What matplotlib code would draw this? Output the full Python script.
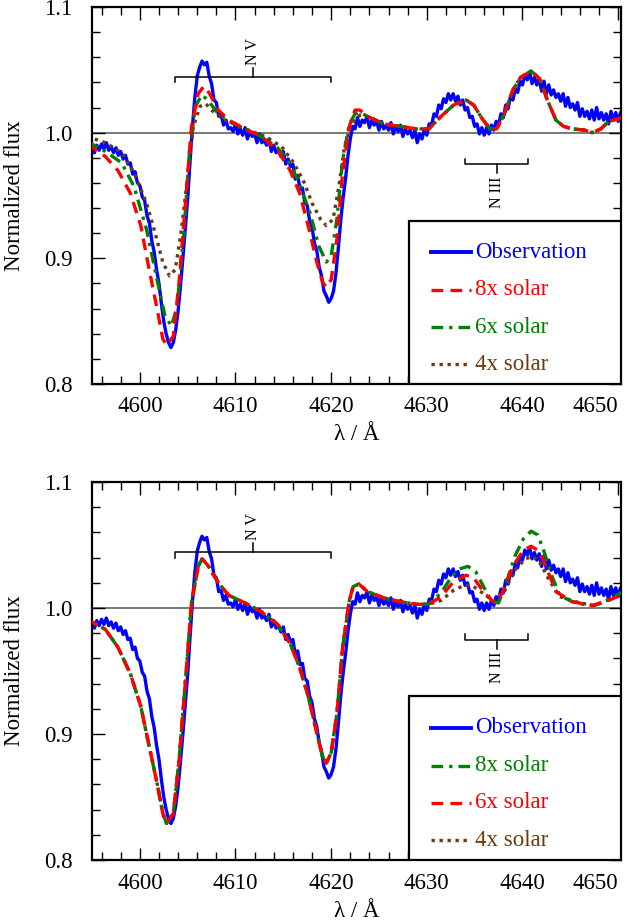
import numpy as np
import matplotlib
matplotlib.use("Agg")
import matplotlib.pyplot as plt
from matplotlib.patches import Rectangle
from matplotlib.ticker import MultipleLocator

plt.rcParams['font.family'] = ['Liberation Serif', 'DejaVu Serif']
plt.rcParams['mathtext.fontset'] = 'stix'

# ---------------- data ----------------
# observed spectrum, sampled every 0.25 A from 4594.5 A (one row = 2 A)
obs_flux = [
    0.987, 0.985, 0.988, 0.984, 0.990, 0.986, 0.991, 0.987,
    0.992, 0.986, 0.989, 0.984, 0.988, 0.982, 0.985, 0.979,
    0.982, 0.975, 0.976, 0.967, 0.969, 0.960, 0.958, 0.949,
    0.946, 0.934, 0.928, 0.914, 0.905, 0.891, 0.880, 0.864,
    0.850, 0.840, 0.833, 0.829, 0.833, 0.843, 0.858, 0.878,
    0.900, 0.924, 0.947, 0.977, 1.005, 1.028, 1.045, 1.052,
    1.057, 1.054, 1.056, 1.045, 1.039, 1.026, 1.024, 1.013,
    1.014, 1.006, 1.010, 1.003, 1.004, 1.001, 1.007, 0.999,
    1.003, 0.998, 1.004, 0.995, 1.001, 0.997, 0.999, 0.992,
    0.999, 0.992, 0.994, 0.990, 0.995, 0.985, 0.990, 0.984,
    0.986, 0.981, 0.985, 0.975, 0.979, 0.973, 0.975, 0.963,
    0.966, 0.955, 0.956, 0.944, 0.942, 0.930, 0.925, 0.912,
    0.906, 0.893, 0.886, 0.874, 0.870, 0.865, 0.868, 0.874,
    0.888, 0.908, 0.930, 0.948, 0.963, 0.981, 0.995, 1.005,
    1.003, 1.012, 1.005, 1.010, 1.008, 1.013, 1.004, 1.010,
    1.006, 1.009, 1.002, 1.009, 1.003, 1.006, 1.002, 1.008,
    0.999, 1.005, 1.001, 1.006, 0.997, 1.003, 0.999, 1.002,
    0.996, 1.002, 0.992, 0.999, 0.995, 1.003, 0.998, 1.007,
    1.006, 1.015, 1.013, 1.022, 1.019, 1.027, 1.024, 1.031,
    1.026, 1.031, 1.025, 1.029, 1.022, 1.026, 1.018, 1.020,
    1.012, 1.013, 1.005, 1.007, 0.999, 1.004, 0.998, 1.004,
    0.999, 1.006, 1.002, 1.009, 1.006, 1.015, 1.012, 1.022,
    1.019, 1.029, 1.026, 1.035, 1.032, 1.041, 1.038, 1.046,
    1.042, 1.048, 1.039, 1.044, 1.038, 1.043, 1.033, 1.041,
    1.031, 1.038, 1.030, 1.034, 1.028, 1.031, 1.025, 1.031,
    1.021, 1.028, 1.020, 1.023, 1.018, 1.024, 1.013, 1.019,
    1.013, 1.017, 1.011, 1.018, 1.010, 1.020, 1.011, 1.016,
    1.010, 1.015, 1.007, 1.017, 1.010, 1.016, 1.009, 1.016,
    1.011]
obs_wave = 4594.5 + 0.25 * np.arange(len(obs_flux))

# top panel models: N V region (separate) + N III region (shared)
top_tail_wave = [4623.8, 4625.5, 4627.2, 4628.9, 4630.2, 4631.5, 4632.8, 4634.1,
                 4634.9, 4635.8, 4636.6, 4637.3, 4638.1, 4639.0, 4639.8, 4640.9,
                 4641.8, 4642.6, 4643.5, 4644.3, 4645.2, 4646.5, 4647.3, 4648.2,
                 4649.0, 4650.5]
top_tail_flux = [1.013, 1.007, 1.005, 1.003, 1.003, 1.013, 1.022, 1.026,
                 1.022, 1.011, 1.003, 1.003, 1.015, 1.034, 1.044, 1.049,
                 1.043, 1.026, 1.010, 1.005, 1.003, 1.002, 1.000, 1.003,
                 1.009, 1.012]

top8_wave = [4594.5, 4596.4, 4597.7, 4599.0, 4600.1, 4600.9, 4601.8, 4602.4, 4602.8,
             4603.5, 4604.1, 4604.8, 4605.4, 4606.1, 4606.7, 4607.3, 4608.2, 4609.3,
             4611.0, 4612.7, 4614.4, 4615.7, 4616.7, 4617.6, 4618.5, 4619.1, 4619.5,
             4620.0, 4620.6, 4621.2, 4621.9, 4622.5, 4623.0]
top8_flux = [0.991, 0.981, 0.970, 0.952, 0.926, 0.894, 0.860, 0.836, 0.831,
             0.838, 0.881, 0.947, 1.005, 1.031, 1.037, 1.031, 1.018, 1.010,
             1.003, 0.997, 0.986, 0.970, 0.952, 0.926, 0.897, 0.881, 0.877,
             0.883, 0.915, 0.968, 1.005, 1.018, 1.018]

top6_wave = [4594.5, 4596.4, 4598.1, 4599.4, 4600.7, 4601.8, 4602.6, 4603.3, 4603.9,
             4604.6, 4605.2, 4605.8, 4606.5, 4607.1, 4608.2, 4609.3, 4611.0, 4612.7,
             4614.4, 4615.5, 4616.5, 4617.8, 4618.7, 4619.5, 4620.0, 4620.6, 4621.2,
             4621.9, 4622.5, 4623.0]
top6_flux = [0.993, 0.985, 0.976, 0.957, 0.923, 0.883, 0.855, 0.846, 0.862,
             0.920, 0.986, 1.021, 1.030, 1.026, 1.015, 1.009, 1.003, 0.997,
             0.988, 0.977, 0.963, 0.936, 0.910, 0.897, 0.902, 0.931, 0.978,
             1.007, 1.015, 1.016]

top4_wave = [4594.5, 4596.4, 4598.1, 4599.4, 4600.7, 4601.6, 4602.4, 4603.1, 4603.7,
             4604.3, 4605.0, 4605.6, 4606.3, 4606.9, 4607.5, 4608.6, 4611.0, 4613.1,
             4614.8, 4616.1, 4617.2, 4618.0, 4618.9, 4619.5, 4620.2, 4620.8, 4621.4,
             4622.1, 4623.0]
top4_flux = [0.997, 0.992, 0.984, 0.968, 0.944, 0.920, 0.897, 0.886, 0.891,
             0.920, 0.965, 1.005, 1.021, 1.023, 1.018, 1.011, 1.003, 0.997,
             0.989, 0.976, 0.960, 0.944, 0.931, 0.926, 0.931, 0.957, 0.989,
             1.007, 1.014]

# bottom panel models: N V region shared + N III region (separate)
bot_head_wave = [4594.5, 4596.4, 4597.7, 4599.0, 4600.1, 4600.9, 4601.8, 4602.4, 4602.8,
                 4603.5, 4604.1, 4604.8, 4605.4, 4606.1, 4606.5, 4607.1, 4608.2, 4609.3,
                 4611.0, 4612.7, 4614.4, 4615.7, 4616.7, 4617.6, 4618.5, 4619.1, 4619.5,
                 4620.0, 4620.6, 4621.2, 4621.9, 4622.3, 4622.9, 4623.8, 4625.5, 4627.2,
                 4628.9, 4630.2]
bot_head_flux = [0.991, 0.983, 0.969, 0.948, 0.922, 0.893, 0.861, 0.837, 0.829,
                 0.837, 0.879, 0.945, 1.004, 1.033, 1.039, 1.034, 1.020, 1.010,
                 1.004, 0.997, 0.987, 0.972, 0.953, 0.930, 0.901, 0.882, 0.877,
                 0.885, 0.916, 0.969, 1.006, 1.017, 1.019, 1.013, 1.008, 1.005,
                 1.003, 1.003]

bot8_wave = [4631.5, 4632.6, 4633.4, 4634.3, 4635.1, 4636.0, 4636.8, 4637.5, 4638.3,
             4639.2, 4640.1, 4640.9, 4641.6, 4642.2, 4643.1, 4643.9, 4645.2, 4646.9,
             4647.5, 4648.6, 4650.5]
bot8_flux = [1.012, 1.025, 1.031, 1.033, 1.029, 1.016, 1.005, 1.004, 1.020,
             1.041, 1.055, 1.061, 1.058, 1.046, 1.025, 1.010, 1.005, 1.002,
             1.002, 1.005, 1.013]

bot6_wave = [4631.5, 4632.8, 4634.1, 4634.9, 4636.0, 4637.1, 4637.9, 4639.0, 4640.1,
             4640.9, 4641.8, 4642.6, 4643.5, 4645.2, 4647.3, 4649.0, 4650.5]
bot6_flux = [1.009, 1.021, 1.026, 1.024, 1.012, 1.004, 1.012, 1.033, 1.046,
             1.049, 1.045, 1.030, 1.013, 1.005, 1.002, 1.006, 1.011]

bot4_wave = [4631.5, 4632.8, 4633.9, 4634.9, 4636.0, 4637.1, 4638.1, 4639.2, 4640.3,
             4641.1, 4641.9, 4642.8, 4643.9, 4646.0, 4647.5, 4650.5]
bot4_flux = [1.006, 1.014, 1.018, 1.017, 1.011, 1.005, 1.013, 1.030, 1.039,
             1.041, 1.035, 1.022, 1.009, 1.004, 1.002, 1.011]

nv_lines = [4603.7, 4620.0]
niii_lines = [4634.0, 4640.6]

top_labels = ['Observation', '8x solar', '6x solar', '4x solar']
bot_labels = ['Observation', '8x solar', '6x solar', '4x solar']
xticks = [4600, 4610, 4620, 4630, 4640, 4650]
yticks = [0.8, 0.9, 1.0, 1.1]

# ---------------- styles ----------------
BLUE = '#0000FF'
RED = '#FF0000'
GREEN = '#008000'
BROWN = '#6B3A12'
FS = 16.5

W, H = 643, 922
fig = plt.figure(figsize=(W / 100, H / 100), dpi=100)


def px_axes(left, top, right, bottom):
    return fig.add_axes([left / W, 1 - bottom / H, (right - left) / W, (bottom - top) / H])


ax1 = px_axes(92, 7, 621, 384)
ax2 = px_axes(92, 482, 621, 860)

red_style = dict(color=RED, lw=2.4, dashes=(3.5, 2.2))
green_style = dict(color=GREEN, lw=2.4, dashes=(3.5, 1.8, 1.0, 1.8))
brown_style = dict(color=BROWN, lw=2.4, dashes=(1.0, 1.4))
blue_style = dict(color=BLUE, lw=2.4)
blue_key = dict(color=BLUE, lw=2.8)


def style_axes(ax):
    ax.set_xlim(4595.0, 4650.3)
    ax.set_ylim(0.8, 1.1)
    ax.set_xticks(xticks)
    ax.set_yticks(yticks)
    ax.set_yticklabels(['0.8', '0.9', '1.0', '1.1'])
    ax.xaxis.set_minor_locator(MultipleLocator(2))
    ax.yaxis.set_minor_locator(MultipleLocator(0.02))
    ax.tick_params(which='both', direction='in', top=True, right=True, width=1.0,
                   labelsize=FS)
    ax.tick_params(axis='x', which='major', length=9, pad=9)
    ax.tick_params(axis='y', which='major', length=9, pad=14)
    ax.tick_params(which='minor', length=5.5)
    for s in ax.spines.values():
        s.set_linewidth(1.6)
    labs = ax.get_xticklabels()
    labs[-1].set_horizontalalignment('right')
    ax.set_xlabel('λ / Å', fontsize=FS)
    ax.xaxis.set_label_coords(0.5, -0.135)
    ax.xaxis.label.set_verticalalignment('center')
    ax.set_ylabel('Normalized flux', fontsize=FS)
    ax.yaxis.set_label_coords(-0.127, 0.5)
    ax.axhline(1.0, color='#555555', lw=1.1, zorder=1)


def brackets(ax):
    # N V
    y0 = 1.0445
    ax.plot([nv_lines[0], nv_lines[0], nv_lines[1], nv_lines[1]],
            [y0 - 0.0045, y0, y0, y0 - 0.0045], color='black', lw=1.1)
    xm = 0.5 * (nv_lines[0] + nv_lines[1])
    ax.plot([xm, xm], [y0, y0 + 0.007], color='black', lw=1.1)
    ax.text(xm, y0 + 0.0095, 'N V', rotation=90, ha='center', va='bottom', fontsize=11.5)
    # N III
    y1 = 0.9748
    ax.plot([niii_lines[0], niii_lines[0], niii_lines[1], niii_lines[1]],
            [y1 + 0.0045, y1, y1, y1 + 0.0045], color='black', lw=1.1)
    xm = 0.5 * (niii_lines[0] + niii_lines[1])
    ax.plot([xm, xm], [y1, y1 - 0.007], color='black', lw=1.1)
    ax.text(xm, y1 - 0.0095, 'N III', rotation=90, ha='center', va='top', fontsize=11.5)


def legend_box(ax, entries):
    ax.add_patch(Rectangle((0.599, 0.0), 0.401, 0.433, transform=ax.transAxes,
                           facecolor='white', edgecolor='black', lw=1.6, zorder=10))
    rows = [0.350, 0.250, 0.151, 0.052]
    for (label, st), yc in zip(entries, rows):
        ax.plot([0.640, 0.716], [yc, yc], transform=ax.transAxes, zorder=11, **st)
        ax.text(0.724, yc, label, transform=ax.transAxes, color=st['color'],
                fontsize=FS, va='center', ha='left', zorder=11)


# ---------------- top panel ----------------
style_axes(ax1)
ax1.plot(obs_wave, obs_flux, zorder=2, **blue_style)
ax1.plot(top4_wave + top_tail_wave, top4_flux + top_tail_flux, zorder=3, **brown_style)
ax1.plot(top6_wave + top_tail_wave, top6_flux + top_tail_flux, zorder=4, **green_style)
ax1.plot(top8_wave + top_tail_wave, top8_flux + top_tail_flux, zorder=5, **red_style)
brackets(ax1)
legend_box(ax1, [(top_labels[0], blue_key), (top_labels[1], red_style),
                 (top_labels[2], green_style), (top_labels[3], brown_style)])

# ---------------- bottom panel ----------------
style_axes(ax2)
ax2.plot(obs_wave, obs_flux, zorder=2, **blue_style)
ax2.plot(bot_head_wave + bot4_wave, bot_head_flux + bot4_flux, zorder=3, **brown_style)
ax2.plot(bot_head_wave + bot8_wave, bot_head_flux + bot8_flux, zorder=4, **green_style)
ax2.plot(bot_head_wave + bot6_wave, bot_head_flux + bot6_flux, zorder=5, **red_style)
brackets(ax2)
legend_box(ax2, [(bot_labels[0], blue_key), (bot_labels[1], green_style),
                 (bot_labels[2], red_style), (bot_labels[3], brown_style)])

fig.savefig('out.png', dpi=100)
